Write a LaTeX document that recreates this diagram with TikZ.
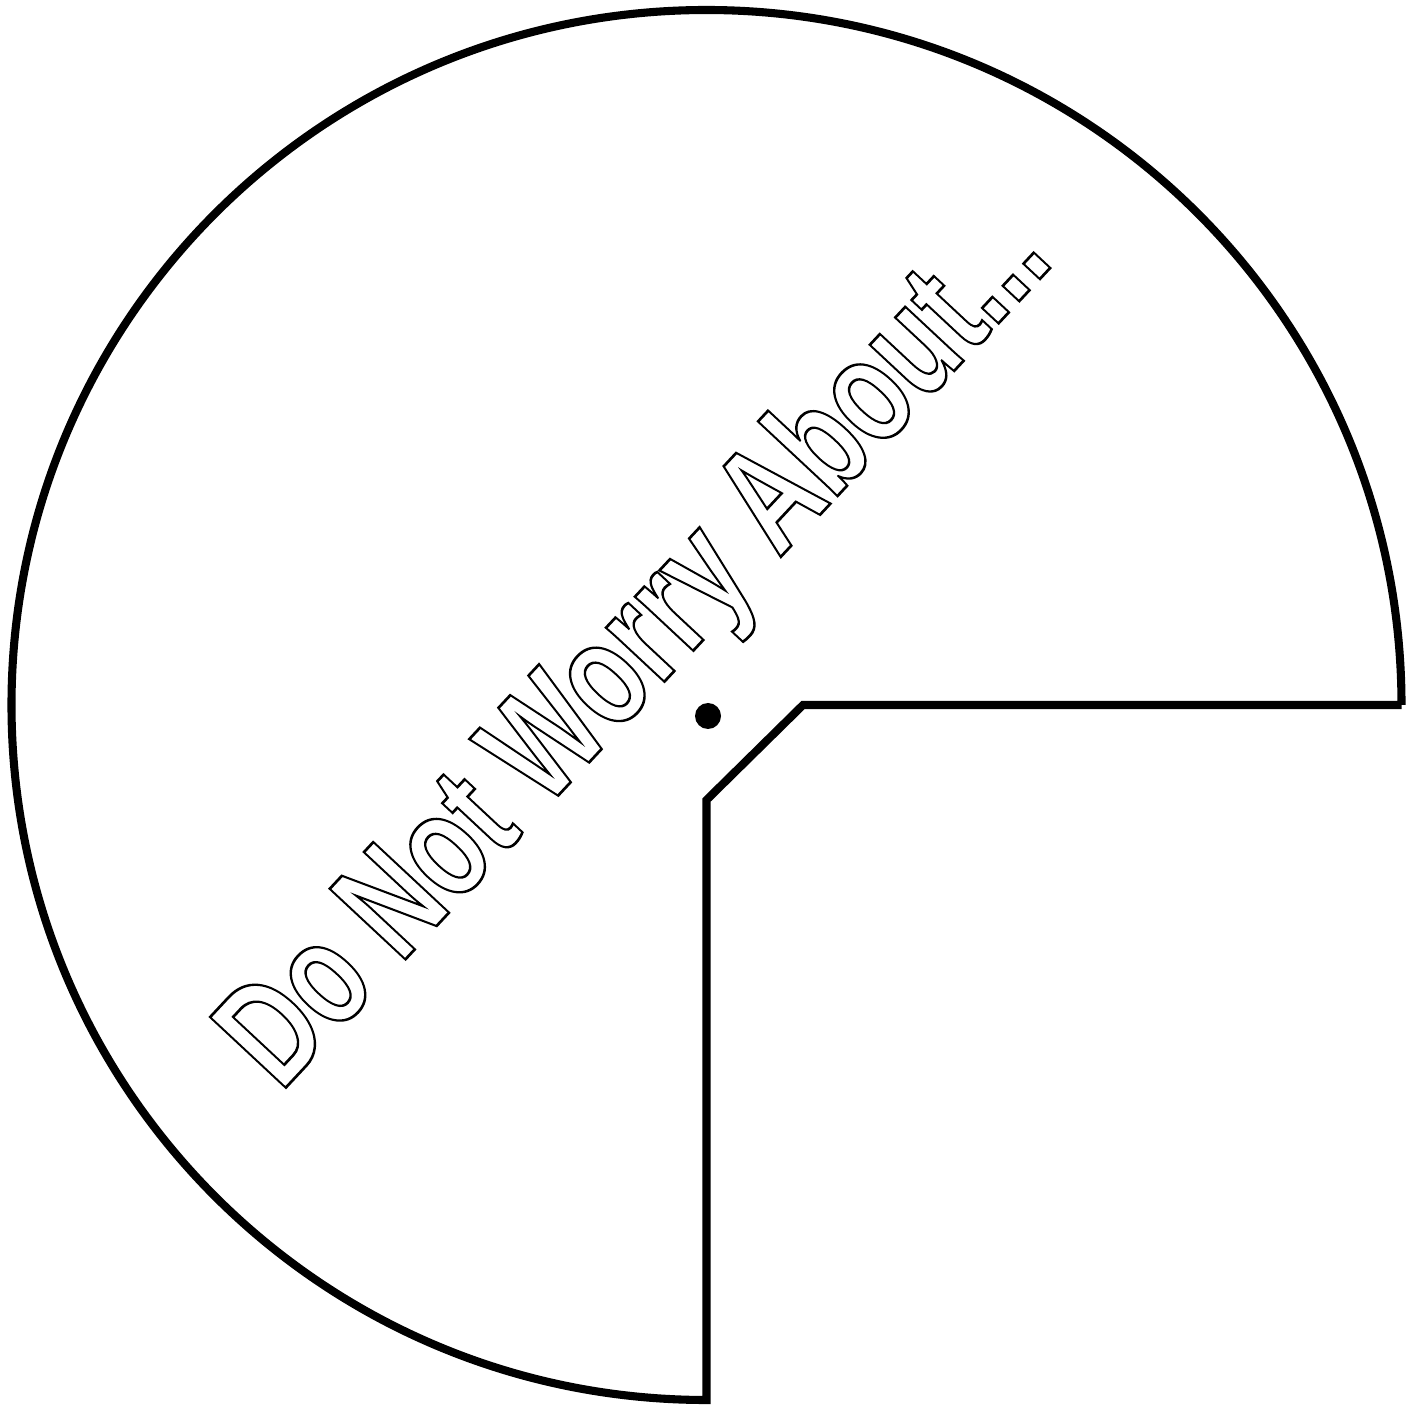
\documentclass[tikz,border=0pt]{standalone}
\usepackage{fontspec}
\setmainfont{Liberation Sans}
% hollow letters: stroke the glyph outlines only
\newcommand{\hollowtext}[1]{\special{pdf:literal direct 1 Tr 0.55 w}#1\special{pdf:literal direct 0 Tr}}
\begin{document}
\begin{tikzpicture}[line width=2.3pt, line join=miter]
            \useasboundingbox (0, 0) rectangle (14.17, 14.05);
            \coordinate (c) at (7.065, 7.0);

            \draw (c) ++(6.95, 0) -- (8.03, 7.0) -- (7.065, 6.05) -- (7.065, 0.05)
            arc[start angle=-90, end angle=-360, radius=6.95];

            \fill (7.08, 6.89) circle[radius=0.13];

            \node[rotate=47, yscale=1.38, anchor=base west, inner sep=0pt, font=\bfseries\fontsize{31}{36}\selectfont]
            (title) at (2.78, 3.09) {\hollowtext{Do Not Worry About...}};
        \end{tikzpicture}
\end{document}
